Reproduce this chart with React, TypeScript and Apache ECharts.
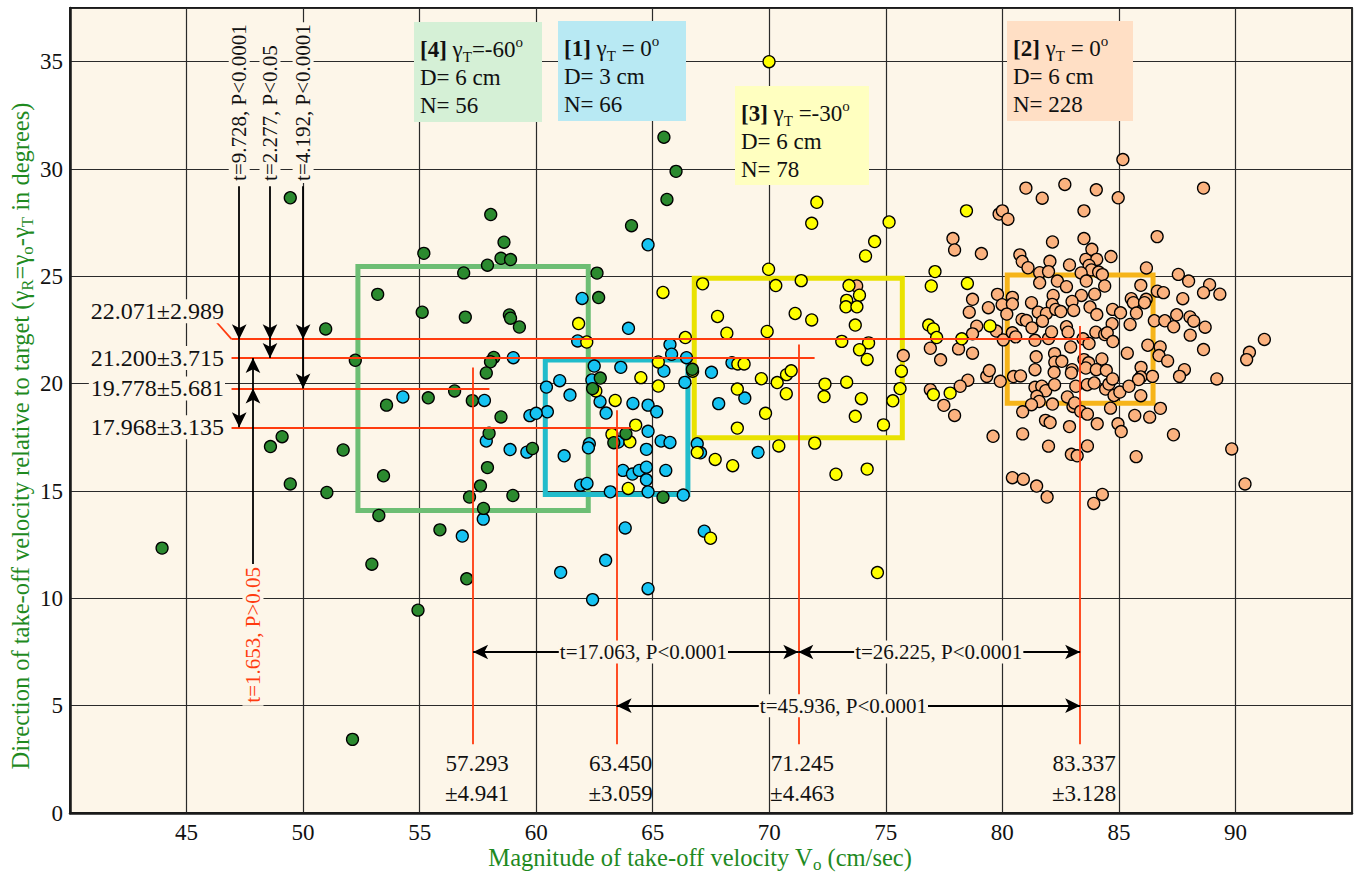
import { useEffect, useRef } from 'react';
import * as echarts from 'echarts';

const FONT = "'Liberation Serif', 'Times New Roman', Times, serif";
const PLOT_BG = '#fdf6e9';
const RED = '#ff3b0f';
const NAME_GREEN = '#1f8a1f';
const INK = '#111111';

// Groups in order [1], [2], [3], [4]
const groupIds = ['1', '2', '3', '4'];
const gammaText = [' = 0', ' = 0', ' =-30', '=-60'];
const diameterText = ['3', '6', '6', '6'];
const countText = ['66', '228', '78', '56'];
const meanV = [63.45, 83.337, 71.245, 57.293];
const sdV = [3.059, 3.128, 4.463, 4.941];
const meanDir = [17.968, 22.071, 21.2, 19.778];
const sdDir = [3.135, 2.989, 3.715, 5.681];

const pointColors = ['#16c3f2', '#fbb27f', '#ffff00', '#2b8a2f'];
const boxColors = ['#21bccb', '#f6b419', '#e9e200', '#6dbe74'];
const infoBg = ['#b8e9f3', '#ffdfc5', '#ffffc0', '#d5f0d6'];

const xTicks = [45, 50, 55, 60, 65, 70, 75, 80, 85, 90];
const yTicks = [0, 5, 10, 15, 20, 25, 30, 35];

// [1] gamma_T = 0, D = 3 cm (cyan)
const dataG1 = [
  [64.8, 26.47], [61.97, 23.97], [63.96, 22.58], [61.78, 21.99], [65.74, 21.82], [65.81, 21.37], [66.45, 21.21],
  [62.49, 20.82], [63.63, 20.76], [65.48, 20.59], [66.38, 20.06], [67.52, 20.53], [61.01, 20.14], [60.44, 19.84],
  [62.39, 20.17], [61.45, 19.47], [62.74, 19.16], [64.15, 19.08], [64.8, 19.0], [65.17, 18.69], [63.0, 18.63],
  [60.48, 18.69], [59.73, 18.51], [60.0, 18.62], [67.83, 19.07], [64.8, 17.78], [65.36, 17.33], [65.74, 17.26],
  [59.6, 16.81], [62.28, 17.2], [62.24, 17.01], [61.2, 16.64], [64.73, 16.94], [66.91, 17.2], [67.05, 16.78],
  [63.72, 15.96], [64.13, 15.79], [64.42, 15.96], [64.73, 16.11], [65.56, 15.96], [64.73, 15.52], [61.91, 15.27],
  [62.18, 15.35], [63.18, 14.96], [64.8, 14.96], [66.31, 14.81], [63.82, 13.28], [67.21, 13.13], [62.98, 11.77],
  [61.05, 11.21], [64.8, 10.45], [62.42, 9.94], [63.52, 17.28], [59.02, 21.21], [54.28, 19.38], [57.78, 19.22],
  [57.86, 17.33], [58.88, 16.93], [57.73, 13.69], [56.83, 12.9], [68.4, 20.97], [68.95, 19.33], [69.52, 16.8],
];

// [2] gamma_T = 0, D = 6 cm (orange)
const dataG2 = [
  [85.17, 30.44], [81.01, 29.11], [82.68, 29.28], [84.03, 29.03], [88.63, 29.11], [81.71, 28.64], [84.97, 28.66],
  [79.86, 27.9], [80.0, 28.05], [80.24, 27.66], [83.5, 28.05], [77.88, 26.76], [77.95, 26.23], [79.1, 26.06],
  [82.15, 26.6], [83.5, 26.76], [86.64, 26.85], [80.75, 26.0], [80.85, 25.69], [81.1, 25.4], [82.04, 25.7],
  [82.88, 25.53], [83.58, 25.79], [83.84, 26.26], [84.05, 25.79], [83.72, 25.51], [83.82, 25.3], [84.66, 25.92],
  [86.18, 25.39], [81.6, 25.17], [81.98, 25.22], [81.6, 24.7], [82.36, 24.78], [82.75, 24.52], [83.38, 25.16],
  [83.6, 24.78], [84.13, 25.2], [84.29, 25.08], [84.39, 24.55], [85.94, 24.58], [87.55, 25.09], [87.99, 24.78],
  [88.89, 24.61], [88.63, 24.24], [89.33, 24.17], [86.65, 24.31], [86.91, 24.24], [87.74, 23.96], [79.79, 24.16],
  [80.43, 24.02], [79.99, 23.68], [80.43, 23.71], [78.72, 23.93], [78.58, 23.33], [79.4, 23.54], [80.19, 23.24],
  [81.25, 23.77], [82.18, 24.11], [82.14, 23.69], [81.54, 23.33], [81.89, 23.27], [82.29, 23.46], [82.51, 23.36],
  [83.39, 24.11], [83.96, 24.17], [82.99, 23.83], [83.06, 23.41], [83.76, 23.57], [84.05, 23.22], [84.73, 23.46],
  [85.07, 23.3], [85.53, 23.96], [85.62, 23.77], [86.17, 23.93], [86.1, 23.77], [85.75, 23.29], [85.48, 22.76],
  [84.71, 22.79], [86.52, 22.93], [86.97, 22.93], [87.48, 23.21], [87.35, 22.65], [88.05, 23.11], [88.21, 22.91],
  [88.7, 22.63], [80.84, 22.99], [81.03, 22.94], [81.27, 22.6], [81.72, 22.91], [82.75, 22.65], [82.82, 22.4],
  [79.74, 22.45], [78.9, 22.68], [78.72, 22.32], [78.12, 21.62], [78.72, 21.42], [76.91, 21.65], [77.35, 21.11],
  [75.75, 21.31], [80.04, 22.04], [80.43, 22.37], [80.57, 22.18], [81.4, 22.02], [81.98, 22.1], [82.11, 22.41],
  [83.46, 22.09], [83.72, 21.87], [84.01, 22.4], [84.39, 22.29], [84.5, 22.37], [84.74, 21.96], [82.93, 21.71],
  [86.24, 21.79], [86.77, 21.71], [86.72, 21.31], [87.09, 21.06], [88.06, 22.26], [88.63, 21.59], [91.24, 22.06],
  [90.6, 21.46], [90.48, 21.12], [85.36, 21.42], [81.45, 21.25], [82.24, 21.4], [82.25, 21.0], [82.55, 21.04],
  [83.5, 21.12], [83.7, 20.97], [84.27, 21.15], [83.58, 20.73], [84.03, 20.65], [84.46, 20.62], [81.4, 20.65],
  [82.22, 20.53], [82.99, 20.65], [82.96, 20.5], [85.95, 20.76], [85.94, 20.31], [85.84, 20.19], [86.44, 20.34],
  [87.81, 20.65], [87.6, 20.34], [89.2, 20.22], [79.33, 20.34], [79.44, 20.61], [79.91, 20.11], [80.48, 20.33],
  [80.78, 20.36], [78.52, 20.16], [78.19, 19.88], [76.91, 19.72], [77.49, 18.99], [77.95, 18.52], [79.6, 17.55],
  [81.4, 19.83], [81.69, 19.88], [81.86, 19.67], [82.24, 19.95], [83.15, 19.88], [83.64, 19.95], [83.94, 20.03],
  [84.43, 19.75], [84.57, 19.98], [84.73, 20.22], [84.79, 19.45], [85.04, 19.61], [85.43, 19.88], [85.94, 19.44],
  [81.48, 19.41], [81.58, 19.17], [81.25, 19.02], [80.87, 18.69], [82.15, 19.05], [82.79, 19.38], [83.03, 18.94],
  [83.1, 19.1], [83.36, 18.71], [83.65, 18.58], [84.64, 18.86], [86.78, 18.85], [85.68, 18.52], [86.32, 18.44],
  [81.85, 18.29], [82.05, 18.19], [84.07, 18.13], [84.96, 18.13], [85.1, 17.77], [82.88, 18.0], [80.87, 17.66],
  [87.34, 17.62], [81.98, 17.09], [83.65, 17.1], [82.96, 16.71], [83.21, 16.64], [85.74, 16.6], [89.84, 16.96],
  [80.43, 15.62], [80.9, 15.55], [81.47, 15.23], [81.92, 14.72], [84.29, 14.84], [83.92, 14.42], [90.41, 15.33],
  [73.75, 24.55],
];

// [3] gamma_T = -30, D = 6 cm (yellow)
const dataG3 = [
  [69.99, 35.0], [72.04, 28.45], [71.82, 27.47], [75.14, 27.53], [74.52, 26.62], [74.13, 25.95], [69.97, 25.33],
  [67.14, 24.65], [70.28, 24.57], [71.37, 24.8], [73.42, 24.57], [73.32, 23.88], [73.87, 24.12], [73.29, 23.58],
  [73.76, 23.58], [67.78, 23.13], [71.11, 23.27], [71.82, 22.97], [68.18, 22.35], [69.91, 22.43], [73.69, 22.73],
  [73.11, 21.97], [74.26, 21.9], [73.87, 21.58], [74.2, 21.13], [66.4, 22.15], [68.65, 20.92], [68.92, 20.92],
  [69.66, 20.23], [70.34, 20.05], [70.74, 20.42], [70.94, 20.6], [68.63, 19.75], [70.73, 19.53], [72.39, 19.98],
  [73.32, 20.07], [72.35, 19.4], [73.95, 19.3], [75.67, 20.58], [75.61, 19.77], [75.3, 19.2], [69.84, 18.62],
  [73.69, 18.48], [74.9, 18.08], [68.63, 17.93], [70.41, 17.1], [71.95, 17.23], [67.68, 16.47], [68.43, 16.18],
  [72.86, 15.78], [74.2, 16.02], [66.91, 16.8], [67.48, 12.8], [74.64, 11.2], [65.44, 24.25], [66.71, 20.58],
  [61.82, 22.8], [62.17, 21.94], [65.24, 21.01], [64.49, 20.28], [65.24, 19.89], [62.56, 19.66], [63.39, 19.22],
  [64.27, 18.07], [63.25, 17.64], [64.02, 17.29], [63.95, 15.12], [78.46, 28.05], [77.11, 25.22], [76.95, 24.55],
  [78.5, 24.67], [76.84, 22.73], [77.04, 22.55], [77.18, 22.15], [79.47, 22.69], [78.26, 22.09], [77.04, 19.49],
  [77.76, 19.56],
];

// [4] gamma_T = -60, D = 6 cm (green)
const dataG4 = [
  [49.45, 28.66], [58.05, 27.88], [58.62, 26.59], [55.18, 26.07], [58.49, 25.84], [58.9, 25.78], [57.91, 25.52],
  [56.89, 25.16], [53.2, 24.16], [55.11, 23.33], [56.96, 23.1], [58.85, 23.2], [58.9, 23.05], [59.28, 22.64],
  [50.97, 22.55], [52.24, 21.09], [58.18, 21.22], [58.04, 21.02], [57.86, 20.5], [56.5, 19.66], [57.26, 19.21],
  [55.37, 19.34], [53.58, 19.0], [58.49, 18.45], [57.98, 17.69], [49.1, 17.53], [48.6, 17.07], [51.72, 16.91],
  [53.45, 15.71], [49.45, 15.33], [51.02, 14.93], [57.91, 16.09], [57.61, 15.24], [57.14, 14.72], [59.0, 14.79],
  [59.84, 16.98], [57.74, 14.19], [53.25, 13.86], [55.87, 13.19], [43.95, 12.34], [52.95, 11.59], [57.02, 10.91],
  [54.93, 9.45], [52.12, 3.43], [65.48, 31.48], [66.0, 29.89], [65.61, 28.58], [64.09, 27.36], [62.61, 25.15],
  [62.68, 24.01], [62.75, 20.26], [62.42, 19.77], [63.85, 17.67], [63.33, 17.25], [65.44, 14.71], [66.7, 20.67],
];

const groupData = [dataG1, dataG2, dataG3, dataG4];

// t-test annotations (group indices 0..3 = [1]..[4])
const tHoriz = [
  { a: 3, b: 2, y: 7.5, text: 't=17.063, P<0.0001', cx: 64.6 },
  { a: 2, b: 1, y: 7.5, text: 't=26.225, P<0.0001', cx: 77.27 },
  { a: 0, b: 1, y: 5, text: 't=45.936, P<0.0001', cx: 73.18 },
];
const tVertDown = [
  { x: 47.26, to: 0, text: 't=9.728, P<0.0001' },
  { x: 48.58, to: 2, text: 't=2.277, P<0.05' },
  { x: 50.0, to: 3, text: 't=4.192, P<0.0001' },
];
const tVertUp = { x: 47.85, from: 3, to: 2, start: 11.6, text: 't=1.653, P>0.05', textBase: 5.0 };
const vertArrowTop = 29.2;
const vertTextBase = 29.35;

// red guide lines
const guideLeftX = 46.93;
const guideRightExtra = [0.61, 0.41, 0.7, 0.7];
const guideTopExtra = [0.79, 0.61, 0.63, 0.98];
const guideBottom = 3.2;
const leftLabelX = 46.65;
const leftLabelY = [17.968, 23.37, 21.2, 19.778];
const bottomLabelY = 1.6;

// info boxes placed in the top area (pixels)
const infoBoxes = [
  { g: 3, x: 414, y: 22, w: 128, h: 100 },
  { g: 0, x: 558, y: 21, w: 128, h: 100 },
  { g: 2, x: 735, y: 86, w: 134, h: 99 },
  { g: 1, x: 1007, y: 21, w: 126, h: 100 },
];

// axis titles (with sub/superscripts)
const xTitle = '{t|Magnitude of take-off velocity V}{s|o}{t| (cm/sec)}';
const yTitle = '{t|Direction of take-off velocity relative to target (γ}{s|R}{t|=γ}{s|o}{t|-γ}{s|T}{t| in degrees)}';

function pm(v: number) {
  return v.toFixed(3);
}

function buildOption(): any {
  const boxOrder = [3, 1, 2, 0];
  const markAreaData = boxOrder.map((i) => [
    {
      coord: [meanV[i] - sdV[i], meanDir[i] + sdDir[i]],
      itemStyle: { color: 'rgba(0,0,0,0)', borderColor: boxColors[i], borderWidth: 5 },
    },
    { coord: [meanV[i] + sdV[i], meanDir[i] - sdDir[i]] },
  ]);

  const redLines: any[] = [];
  redLines.push([{ coord: [46.3, 22.85] }, { coord: [guideLeftX, meanDir[1]] }]);
  for (let i = 0; i < 4; i++) {
    redLines.push([{ coord: [guideLeftX, meanDir[i]] }, { coord: [meanV[i] + guideRightExtra[i], meanDir[i]] }]);
    redLines.push([{ coord: [meanV[i], meanDir[i] + guideTopExtra[i]] }, { coord: [meanV[i], guideBottom] }]);
  }

  const arrows: any[] = [];
  tHoriz.forEach((t) => {
    arrows.push([
      { coord: [meanV[t.a], t.y], symbol: 'arrow' },
      { coord: [meanV[t.b], t.y], symbol: 'arrow' },
    ]);
  });
  tVertDown.forEach((t) => {
    arrows.push([{ coord: [t.x, vertArrowTop], symbol: 'none' }, { coord: [t.x, meanDir[1]], symbol: 'arrow' }]);
    arrows.push([{ coord: [t.x, meanDir[1]], symbol: 'none' }, { coord: [t.x, meanDir[t.to]], symbol: 'arrow' }]);
  });
  arrows.push([{ coord: [tVertUp.x, tVertUp.start], symbol: 'none' }, { coord: [tVertUp.x, meanDir[tVertUp.from]], symbol: 'arrow' }]);
  arrows.push([{ coord: [tVertUp.x, meanDir[tVertUp.from]], symbol: 'none' }, { coord: [tVertUp.x, meanDir[tVertUp.to]], symbol: 'arrow' }]);

  const scatterOrder = [1, 0, 2, 3];

  return {
    animation: false,
    backgroundColor: '#ffffff',
    grid: {
      left: 70,
      right: 2,
      top: 8,
      bottom: 64,
      show: true,
      backgroundColor: PLOT_BG,
      borderColor: '#1a1a1a',
      borderWidth: 1.8,
      containLabel: false,
      outerBoundsMode: 'none',
    },
    xAxis: {
      type: 'value',
      min: 40,
      max: 95,
      interval: 5,
      axisLine: { show: true, lineStyle: { color: '#1a1a1a', width: 2.5 } },
      axisTick: { show: false },
      splitLine: { show: true, lineStyle: { color: '#2a2a2a', width: 1.2 } },
      axisLabel: {
        fontFamily: FONT,
        fontSize: 23,
        color: INK,
        margin: 8,
        formatter: (v: number) => (xTicks.indexOf(v) >= 0 ? String(v) : ''),
      },
    },
    yAxis: {
      type: 'value',
      min: 0,
      max: 37.5,
      interval: 5,
      axisLine: { show: true, lineStyle: { color: '#1a1a1a', width: 2.5 } },
      axisTick: { show: false },
      splitLine: { show: true, lineStyle: { color: '#2a2a2a', width: 1.2 } },
      axisLabel: {
        fontFamily: FONT,
        fontSize: 23,
        color: INK,
        margin: 7,
        formatter: (v: number) => (yTicks.indexOf(v) >= 0 ? String(v) : ''),
      },
    },
    series: [
      {
        name: 'boxes',
        type: 'line',
        data: [],
        z: 1,
        silent: true,
        markArea: { silent: true, data: markAreaData },
      },
      {
        name: 'guides',
        type: 'line',
        data: [],
        z: 2,
        silent: true,
        markLine: {
          silent: true,
          symbol: ['none', 'none'],
          label: { show: false },
          lineStyle: { color: RED, width: 1.8, type: 'solid' },
          data: redLines,
        },
      },
      ...scatterOrder.map((g) => ({
        name: '[' + groupIds[g] + ']',
        type: 'scatter',
        z: 3,
        symbol: 'circle',
        symbolSize: 12,
        itemStyle: { color: pointColors[g], borderColor: '#000', borderWidth: 1.3, opacity: 1 },
        data: groupData[g],
      })),
      {
        name: 'arrows',
        type: 'line',
        data: [],
        z: 4,
        silent: true,
        markLine: {
          silent: true,
          symbol: ['none', 'arrow'],
          symbolSize: [11, 15],
          label: { show: false },
          lineStyle: { color: '#000', width: 1.8, type: 'solid' },
          data: arrows,
        },
      },
    ],
  };
}

function buildGraphics(chart: any): any[] {
  const P = (x: number, y: number) => chart.convertToPixel({ gridIndex: 0 }, [x, y]) as number[];
  const els: any[] = [];
  const txt = (x: number, y: number, text: string, o: any = {}) => ({
    type: 'text',
    x,
    y,
    z: 100,
    rotation: o.rotation || 0,
    style: {
      text,
      fontFamily: FONT,
      fontSize: o.size || 21,
      fill: o.fill || INK,
      align: o.align || 'center',
      verticalAlign: o.va || 'middle',
      lineHeight: o.lineHeight,
      backgroundColor: o.bg,
      padding: o.padding,
      rich: o.rich,
    },
  });

  for (let i = 0; i < 4; i++) {
    const p = P(meanV[i], bottomLabelY);
    els.push(txt(p[0] + 4, p[1], meanV[i].toFixed(3) + '\n±' + pm(sdV[i]), { size: 23, lineHeight: 30 }));
  }
  for (let i = 0; i < 4; i++) {
    const p = P(leftLabelX, leftLabelY[i]);
    els.push(
      txt(p[0], p[1], meanDir[i].toFixed(3) + '±' + pm(sdDir[i]), {
        size: 24,
        align: 'right',
        bg: PLOT_BG,
        padding: [0, 1, 0, 2],
      })
    );
  }
  tHoriz.forEach((t) => {
    const p = P(t.cx, t.y);
    els.push(txt(p[0], p[1], t.text, { bg: PLOT_BG, padding: [1, 1, 1, 1] }));
  });
  tVertDown.forEach((t) => {
    const p = P(t.x, vertTextBase);
    els.push(
      txt(p[0], p[1], t.text, { rotation: Math.PI / 2, align: 'left', bg: PLOT_BG, padding: [0, 2, 0, 2] })
    );
  });
  {
    const p = P(tVertUp.x, tVertUp.textBase);
    els.push(
      txt(p[0], p[1], tVertUp.text, {
        rotation: Math.PI / 2,
        align: 'left',
        fill: RED,
        bg: PLOT_BG,
        padding: [0, 3, 0, 3],
      })
    );
  }

  const richTitle = {
    b: { fontFamily: FONT, fontSize: 23, fontWeight: 'bold', fill: INK, lineHeight: 30, verticalAlign: 'middle' },
    m: { fontFamily: FONT, fontSize: 23, fill: INK, lineHeight: 30, verticalAlign: 'middle' },
    s: { fontFamily: FONT, fontSize: 15, fill: INK, lineHeight: 15, verticalAlign: 'bottom' },
    o: { fontFamily: FONT, fontSize: 15, fill: INK, lineHeight: 15, verticalAlign: 'top' },
  };
  infoBoxes.forEach((b) => {
    els.push({
      type: 'rect',
      z: 90,
      shape: { x: b.x, y: b.y, width: b.w, height: b.h },
      style: { fill: infoBg[b.g], stroke: 'none' },
    });
    const tx = b.x + 6;
    els.push(
      txt(tx, b.y + 27, '{b|[' + groupIds[b.g] + ']}{m| γ}{s|T}{m|' + gammaText[b.g] + '}{o|o}', {
        align: 'left',
        size: 23,
        rich: richTitle,
      })
    );
    els.push(txt(tx, b.y + 55, 'D= ' + diameterText[b.g] + ' cm', { align: 'left', size: 23 }));
    els.push(txt(tx, b.y + 83, 'N= ' + countText[b.g], { align: 'left', size: 23 }));
  });

  // axis titles
  const nameRich = (size: number) => ({
    t: { fontFamily: FONT, fontSize: size, fill: NAME_GREEN, lineHeight: size + 8, verticalAlign: 'middle' },
    s: { fontFamily: FONT, fontSize: Math.round(size * 0.68), fill: NAME_GREEN, lineHeight: Math.round(size * 0.68), verticalAlign: 'bottom' },
  });
  const bottomMid = P((40 + 95) / 2, 0);
  els.push(txt(bottomMid[0] - 11, 857, xTitle, { size: 24.5, rich: nameRich(24.5), fill: NAME_GREEN }));
  els.push(txt(20, 436, yTitle, { size: 24.5, rich: nameRich(24.5), fill: NAME_GREEN, rotation: Math.PI / 2 }));

  return els;
}

export default function App() {
  const ref = useRef<HTMLDivElement>(null);
  useEffect(() => {
    if (!ref.current) return;
    const chart = echarts.init(ref.current, null, { renderer: 'svg' });
    chart.setOption(buildOption());
    chart.setOption({ graphic: buildGraphics(chart) });
    return () => chart.dispose();
  }, []);
  return (
    <div
      ref={ref}
      style={{ position: 'fixed', left: 0, top: 0, width: 1354, height: 877, background: '#ffffff' }}
    />
  );
}
